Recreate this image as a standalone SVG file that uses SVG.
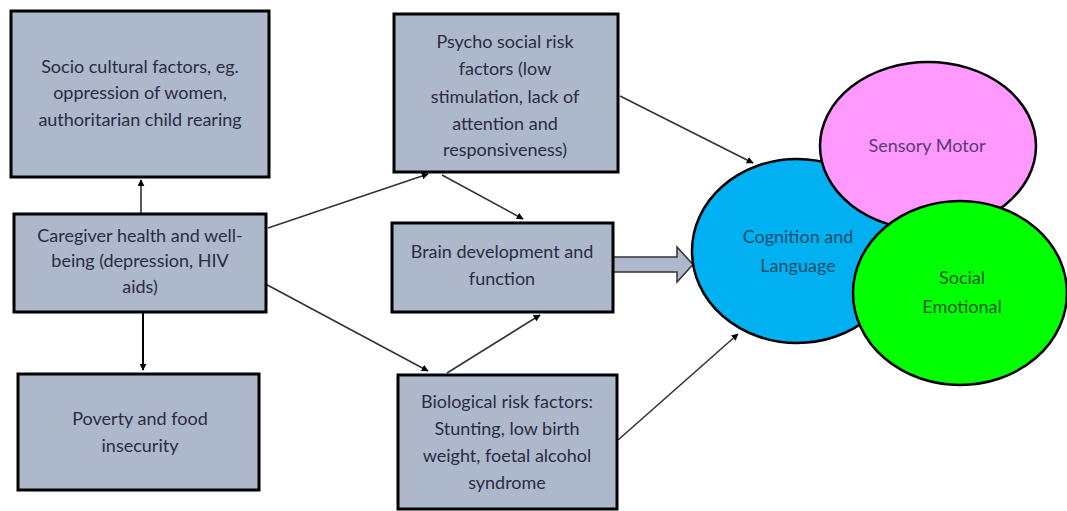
<svg xmlns="http://www.w3.org/2000/svg" width="1067" height="511" viewBox="0 0 1067 511">
<defs>
<style>
.box{fill:#adb9ca;stroke:#000;stroke-width:3}
.t{font-family:Lato,"Liberation Sans",sans-serif;font-size:18px;fill:#2b2b45;text-anchor:middle}
.c{stroke:#333;stroke-width:1.6;fill:none;marker-end:url(#ah)}
.ell{stroke:#000;stroke-width:2.5}
</style>
<marker id="ah" viewBox="0 0 10 10" refX="9" refY="5" markerWidth="7" markerHeight="7" markerUnits="userSpaceOnUse" orient="auto">
<path d="M0,0 L10,5 L0,10 z" fill="#000"/>
</marker>
</defs>
<rect width="1067" height="511" fill="#fff"/>
<g id="connectors">
<line class="c" x1="141" y1="213" x2="141" y2="180"/>
<line class="c" x1="143" y1="313" x2="143" y2="370" style="stroke:#000;stroke-width:2"/>
<line class="c" x1="268" y1="228" x2="428" y2="174"/>
<line class="c" x1="442" y1="175" x2="523" y2="219"/>
<line class="c" x1="258" y1="280" x2="428" y2="371"/>
<line class="c" x1="447" y1="373" x2="540" y2="315"/>
<line class="c" x1="620" y1="96" x2="753" y2="163"/>
<line class="c" x1="618" y1="440" x2="738" y2="334"/>
<path d="M613,257 L677,257 L677,247 L693,264.5 L677,282 L677,272 L613,272 z" fill="#adb9ca" stroke="#333" stroke-width="1.5"/>
</g>
<g id="socio">
<rect class="box" x="11" y="11" width="258" height="166"/>
<text class="t" x="140" y="73">Socio cultural factors, eg.</text>
<text class="t" x="140" y="99">oppression of women,</text>
<text class="t" x="140" y="126">authoritarian child rearing</text>
</g>
<g id="caregiver">
<rect class="box" x="14" y="214" width="252" height="98"/>
<text class="t" x="140" y="242">Caregiver health and well-</text>
<text class="t" x="140" y="267">being (depression, HIV</text>
<text class="t" x="140" y="293">aids)</text>
</g>
<g id="poverty">
<rect class="box" x="18" y="374" width="241" height="116"/>
<text class="t" x="140" y="425">Poverty and food</text>
<text class="t" x="140" y="452">insecurity</text>
</g>
<g id="psycho">
<rect class="box" x="394" y="14" width="224" height="158"/>
<text class="t" x="505" y="48">Psycho social risk</text>
<text class="t" x="505" y="75">factors (low</text>
<text class="t" x="505" y="103">stimulation, lack of</text>
<text class="t" x="505" y="130">attention and</text>
<text class="t" x="505" y="156">responsiveness)</text>
</g>
<g id="brain">
<rect class="box" x="392" y="223" width="221" height="89"/>
<text class="t" x="502" y="258">Brain development and</text>
<text class="t" x="502" y="285">function</text>
</g>
<g id="biological">
<rect class="box" x="398" y="375" width="219" height="134"/>
<text class="t" x="507" y="408">Biological risk factors:</text>
<text class="t" x="507" y="435">Stunting, low birth</text>
<text class="t" x="507" y="462">weight, foetal alcohol</text>
<text class="t" x="507" y="489">syndrome</text>
</g>
<g id="cognition">
<ellipse class="ell" cx="797" cy="251" rx="105" ry="92" fill="#00b0f0"/>
<text class="t" x="798" y="243" style="fill:#1a4f6a">Cognition and</text>
<text class="t" x="798" y="272" style="fill:#1a4f6a">Language</text>
</g>
<g id="sensory">
<ellipse class="ell" cx="928" cy="146" rx="108" ry="84" fill="#ff99ff"/>
<text class="t" x="927" y="152" style="fill:#5a3a7a">Sensory Motor</text>
</g>
<g id="social">
<ellipse class="ell" cx="960" cy="293" rx="107" ry="92" fill="#00ff00"/>
<text class="t" x="962" y="284" style="fill:#1a5a1a">Social</text>
<text class="t" x="962" y="313" style="fill:#1a5a1a">Emotional</text>
</g>
</svg>
